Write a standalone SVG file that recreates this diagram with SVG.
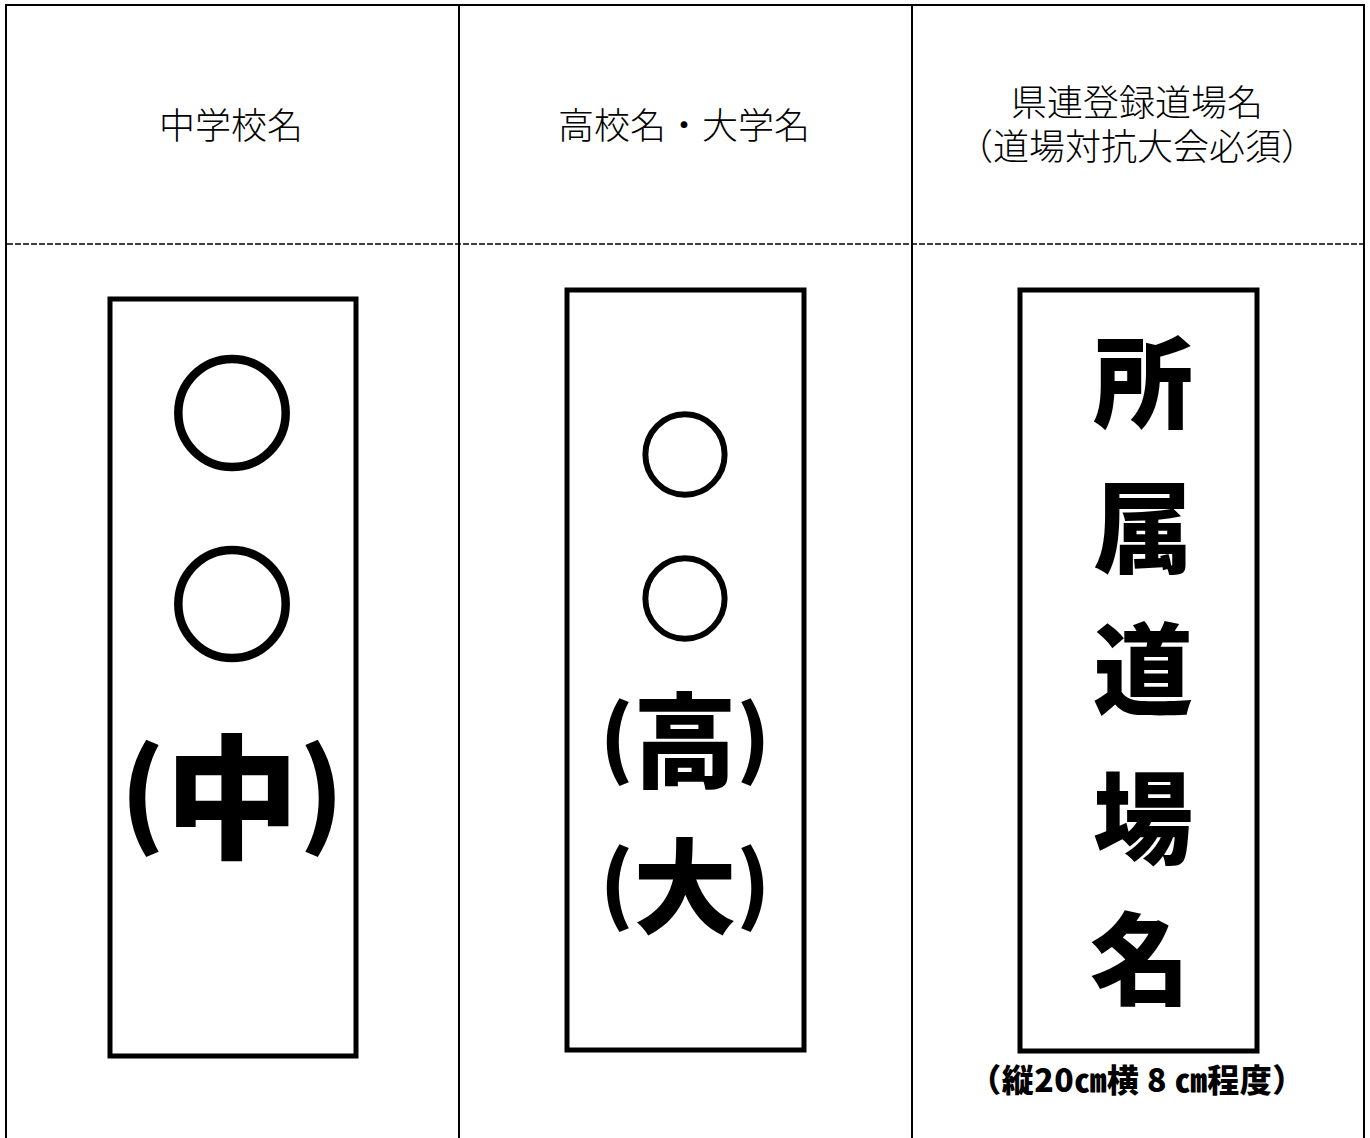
<svg xmlns="http://www.w3.org/2000/svg" width="1370" height="1138" viewBox="0 0 1370 1138">
<style>
.grid{stroke:#000;stroke-width:2;fill:none}
.dash{stroke:#000;stroke-width:1.5;stroke-dasharray:6 2;fill:none}
.box{stroke:#000;stroke-width:5;fill:#fff}
.hd{font-family:"Noto Sans CJK JP","Noto Sans CJK SC",sans-serif;font-size:36px;font-weight:300;fill:#000;text-anchor:middle}
.big{font-family:"Noto Sans CJK JP","Noto Sans CJK SC",sans-serif;font-weight:900;fill:#000;text-anchor:middle}
.circ{font-family:"Noto Sans CJK JP","Noto Sans CJK SC",sans-serif;font-weight:900;fill:#000;stroke:#000;text-anchor:middle}
.cap{font-family:"Noto Sans CJK JP","Noto Sans CJK SC",sans-serif;font-size:32px;font-weight:900;fill:#000;text-anchor:middle;letter-spacing:0.5px}
</style>
<rect width="1370" height="1138" fill="#fff"/>
<g id="grid">
<path class="grid" d="M6,1138 V5 H1364 V1138 M459,5 V1138 M912,5 V1138"/>
<path class="dash" d="M7,244 H1363"/>
</g>
<g id="header-junior">
<text class="hd" x="231" y="139">中学校名</text>
</g>
<g id="header-high">
<text class="hd" x="684" y="139">高校名・大学名</text>
</g>
<g id="header-dojo">
<text class="hd"><tspan x="1137" y="116">県連登録道場名</tspan><tspan x="1137" y="160">（道場対抗大会必須）</tspan></text>
</g>
<g id="card-junior">
<rect class="box" x="110" y="299" width="246" height="757"/>
<text class="circ" x="232" y="461" font-size="126" stroke-width="2.5">○</text>
<text class="circ" x="232" y="652" font-size="126" stroke-width="2.5">○</text>
<text class="big" x="232" y="848" font-size="134"><tspan font-size="112" dy="-14">(</tspan><tspan dy="14">中</tspan><tspan font-size="112" dy="-14">)</tspan></text>
</g>
<g id="card-high">
<rect class="box" x="567" y="290" width="237" height="760"/>
<text class="circ" x="685" y="490" font-size="93" stroke-width="1.5">○</text>
<text class="circ" x="685" y="634" font-size="93" stroke-width="1.5">○</text>
<text class="big" x="685" y="780" font-size="103"><tspan font-size="84" dy="-11">(</tspan><tspan dy="11">高</tspan><tspan font-size="84" dy="-11">)</tspan></text>
<text class="big" x="685" y="926" font-size="103"><tspan font-size="84" dy="-11">(</tspan><tspan dy="11">大</tspan><tspan font-size="84" dy="-11">)</tspan></text>
</g>
<g id="card-dojo">
<rect class="box" x="1020" y="290" width="237" height="761"/>
<text class="big" x="1143" y="420" font-size="100">所</text>
<text class="big" x="1143" y="565" font-size="100">属</text>
<text class="big" x="1143" y="707" font-size="100">道</text>
<text class="big" x="1143" y="856" font-size="100">場</text>
<text class="big" x="1140" y="997" font-size="100">名</text>
<text class="cap" x="1137" y="1092">（縦20㎝横 8 ㎝程度）</text>
</g>
</svg>
